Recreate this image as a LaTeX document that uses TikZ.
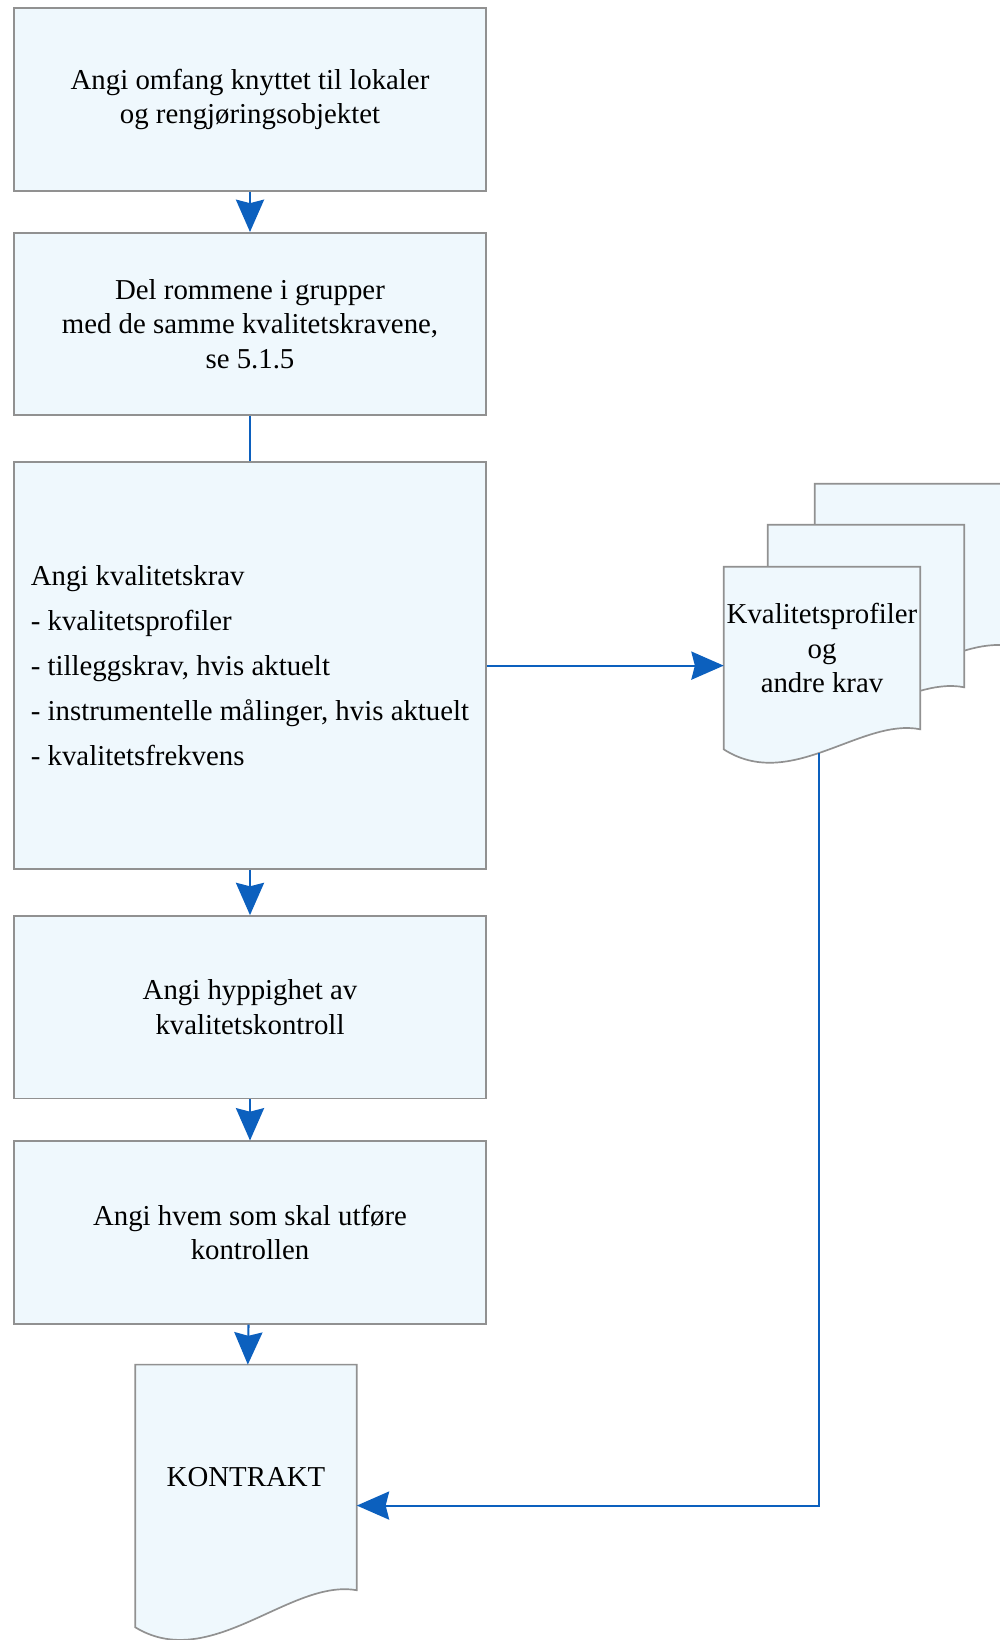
\documentclass[tikz,border=0pt]{standalone}
\usepackage{fontspec}
\setmainfont{Liberation Serif}
\usetikzlibrary{positioning,calc,arrows.meta,backgrounds}
\definecolor{boxfill}{RGB}{239,248,253}
\definecolor{boxline}{RGB}{145,145,145}
\definecolor{flowblue}{RGB}{12,96,190}
\newcommand{\docoutline}[3]{%
  \filldraw[box] (#1.north west) -- (#1.north east) -- (#1.south east)
    .. controls ($(#1.south east)!0.3!(#1.south west)+(0,-12)$)
    and ($(#1.south east)!0.66!(#1.south west)+(0,#3)$)
    .. ($(#1.south west)+(0,#2)$) coordinate[pos=0.53] (#1w) -- cycle;}

\begin{document}
\begin{tikzpicture}[x=0.025cm,y=-0.025cm,
    font=\fontsize{20.5}{24.5}\selectfont,
    box/.style={draw=boxline,fill=boxfill,line width=1.2pt},
    proc/.style={box,minimum width=11.78cm,minimum height=4.56cm,align=center,inner sep=0pt},
    docbox/.style={minimum width=4.9cm,minimum height=4.05cm,align=center,inner sep=0pt},
    flowline/.style={draw=flowblue,line width=1.5pt},
    flow/.style={flowline,-{Stealth[length=23pt,width=20pt,inset=2.5pt]}}]
  \useasboundingbox (0,0) rectangle (1000,1640);

  \node[proc] (omf) at (250,99.5) {Angi omfang knyttet til lokaler\\og rengjøringsobjektet};
  \node[proc, below=1.01cm of omf] (grp) {Del rommene i grupper\\med de samme kvalitetskravene,\\se 5.1.5};
  \node[proc, below=1.13cm of grp, minimum height=10.17cm, align=left,
        font=\fontsize{20.5}{32}\selectfont] (krav)
       {Angi kvalitetskrav\\- kvalitetsprofiler\\- tilleggskrav, hvis aktuelt\\
        - instrumentelle målinger, hvis aktuelt\\- kvalitetsfrekvens};
  \node[proc, below=1.13cm of krav] (hyp) {Angi hyppighet av\\kvalitetskontroll};
  \node[proc, below=1.03cm of hyp] (utf) {Angi hvem som skal utføre\\kontrollen};
  \node[docbox, below=1.0cm of utf, xshift=-0.1cm, minimum width=5.525cm, minimum height=5.625cm] (kontrakt) {KONTRAKT};

  \node[docbox] (back) at (913,565) {};
  \node[docbox] (mid) at (866,606) {};
  \node[docbox] (prof) at (822,648) {Kvalitetsprofiler\\og\\andre krav};

  \begin{scope}[on background layer]
    \docoutline{back}{20}{63}
    \docoutline{mid}{20}{63}
    \docoutline{prof}{20}{63}
    \docoutline{kontrakt}{37}{83}
  \end{scope}

  \draw[flow] (omf) -- (grp);
  \draw[flowline] (grp) -- (krav);
  \draw[flow] (krav) -- (hyp);
  \draw[flow] (hyp) -- (utf);
  \draw[flow] (utf) -- (kontrakt);
  \draw[flow] (krav.east) -- (krav.east -| prof.west);
  \draw[flow] (profw) |- ([yshift=-20pt]kontrakt.east);
\end{tikzpicture}
\end{document}
